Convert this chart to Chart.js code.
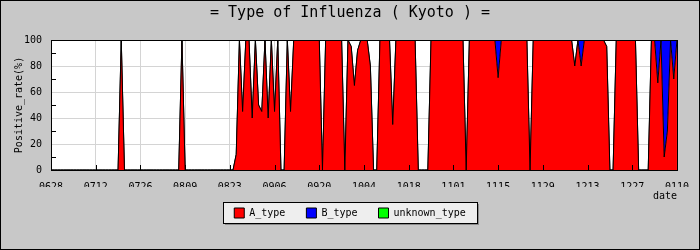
<!DOCTYPE html>
<html>
<head>
<meta charset="utf-8">
<title>Type of Influenza (Kyoto)</title>
<script src="https://cdn.jsdelivr.net/npm/chart.js@4.4.1/dist/chart.umd.min.js"></script>
<style>
  html, body { margin: 0; padding: 0; background: #c8c8c8; }
  canvas { display: block; }
</style>
</head>
<body>
<canvas id="chartInfluenza" width="700" height="250"></canvas>
<script>
// x axis runs one point per day, 0628 .. 0110, labelled every 14 days
const tickLabels = ['0628', '0712', '0726', '0809', '0823', '0906', '0920', '1004',
                    '1018', '1101', '1115', '1129', '1213', '1227', '0110'];

// positive rate (%) per day, one row = 14 days
const typeA = [
    0, 0, 0, 0, 0, 0, 0, 0, 0, 0, 0, 0, 0, 0,                     // 0628
    0, 0, 0, 0, 0, 0, 0, 0, 100, 0, 0, 0, 0, 0,                   // 0712
    0, 0, 0, 0, 0, 0, 0, 0, 0, 0, 0, 0, 0, 100,                   // 0726
    0, 0, 0, 0, 0, 0, 0, 0, 0, 0, 0, 0, 0, 0,                     // 0809
    0, 0, 12, 100, 45, 100, 100, 40, 100, 50, 45, 100, 40, 100,   // 0823
    45, 100, 0, 0, 100, 45, 100, 100, 100, 100, 100, 100, 100, 100, // 0906
    100, 0, 100, 100, 100, 100, 100, 100, 0, 100, 95, 65, 92, 100, // 0920
    100, 100, 80, 0, 0, 100, 100, 100, 100, 35, 100, 100, 100, 100, // 1004
    100, 100, 100, 0, 0, 0, 0, 100, 100, 100, 100, 100, 100, 100, // 1018
    100, 100, 100, 100, 0, 100, 100, 100, 100, 100, 100, 100, 100, 100, // 1101
    71, 100, 100, 100, 100, 100, 100, 100, 100, 100, 0, 100, 100, 100, // 1115
    100, 100, 100, 100, 100, 100, 100, 100, 100, 100, 80, 100, 80, 100, // 1129
    100, 100, 100, 100, 100, 100, 95, 0, 0, 100, 100, 100, 100, 100, // 1213
    100, 100, 0, 0, 0, 0, 100, 100, 67, 100, 10, 30, 100, 70,     // 1227
    100                                                           // 0110
];

const typeB = [
    0, 0, 0, 0, 0, 0, 0, 0, 0, 0, 0, 0, 0, 0,         // 0628
    0, 0, 0, 0, 0, 0, 0, 0, 0, 0, 0, 0, 0, 0,         // 0712
    0, 0, 0, 0, 0, 0, 0, 0, 0, 0, 0, 0, 0, 0,         // 0726
    0, 0, 0, 0, 0, 0, 0, 0, 0, 0, 0, 0, 0, 0,         // 0809
    0, 0, 0, 0, 0, 0, 0, 0, 0, 0, 0, 0, 0, 0,         // 0823
    0, 0, 0, 0, 0, 0, 0, 0, 0, 0, 0, 0, 0, 0,         // 0906
    0, 0, 0, 0, 0, 0, 0, 0, 0, 0, 0, 0, 0, 0,         // 0920
    0, 0, 0, 0, 0, 0, 0, 0, 0, 0, 0, 0, 0, 0,         // 1004
    0, 0, 0, 0, 0, 0, 0, 0, 0, 0, 0, 0, 0, 0,         // 1018
    0, 0, 0, 0, 0, 0, 0, 0, 0, 0, 0, 0, 0, 0,         // 1101
    29, 0, 0, 0, 0, 0, 0, 0, 0, 0, 0, 0, 0, 0,        // 1115
    0, 0, 0, 0, 0, 0, 0, 0, 0, 0, 0, 0, 20, 0,        // 1129
    0, 0, 0, 0, 0, 0, 0, 0, 0, 0, 0, 0, 0, 0,         // 1213
    0, 0, 0, 0, 0, 0, 0, 0, 33, 0, 90, 70, 0, 30,     // 1227
    0                                                 // 0110
];

// no unknown_type positives show up in the picture
const typeUnknown = [];

function toPoints(values) {
    return values.map((v, i) => ({ x: i, y: v }));
}

// white plot area, legend frame, inner tick marks and black plot border
const plotDecor = {
    id: 'plotDecor',
    beforeDraw(chart) {
        const { ctx, chartArea: a, width, height } = chart;
        ctx.save();
        ctx.fillStyle = '#c8c8c8';
        ctx.fillRect(0, 0, width, height);
        ctx.fillStyle = '#ffffff';
        ctx.fillRect(a.left, a.top, a.right - a.left, a.bottom - a.top);

        const hb = chart.legend.legendHitBoxes;
        if (hb && hb.length) {
            const first = hb[0], last = hb[hb.length - 1];
            const bx = Math.round(first.left - 11) + 0.5;
            const by = Math.round(first.top - 6) + 0.5;
            const bw = Math.round(last.left + last.width + 12 - (first.left - 11));
            const bh = 21;
            ctx.fillStyle = '#8c8c8c';
            ctx.fillRect(bx + 1.5, by + 1.5, bw, bh);
            ctx.fillStyle = '#eeeeee';
            ctx.fillRect(bx, by, bw, bh);
            ctx.strokeStyle = '#000000';
            ctx.lineWidth = 1;
            ctx.strokeRect(bx, by, bw, bh);
        }
        ctx.restore();
    },
    afterDatasetsDraw(chart) {
        const { ctx, chartArea: a, scales } = chart;
        ctx.save();
        ctx.strokeStyle = '#000000';
        ctx.lineWidth = 1;
        ctx.beginPath();
        scales.x.ticks.forEach(t => {
            const px = Math.round(scales.x.getPixelForValue(t.value)) + 0.5;
            ctx.moveTo(px, a.bottom);
            ctx.lineTo(px, a.bottom - 5);
        });
        [10, 30, 50, 70, 90].forEach(v => {
            const py = Math.round(scales.y.getPixelForValue(v)) + 0.5;
            ctx.moveTo(a.left, py);
            ctx.lineTo(a.left + 5, py);
        });
        ctx.stroke();
        ctx.strokeRect(Math.round(a.left) + 0.5, Math.round(a.top) + 0.5,
                       Math.round(a.right - a.left), Math.round(a.bottom - a.top));
        ctx.restore();
    },
    afterDraw(chart) {
        const { ctx, width, height } = chart;
        ctx.save();
        ctx.strokeStyle = '#000000';
        ctx.lineWidth = 1;
        ctx.strokeRect(0.5, 0.5, width - 1, height - 1);
        ctx.restore();
    }
};

Chart.defaults.font.family = "'DejaVu Sans Mono', monospace";
Chart.defaults.font.size = 10;
Chart.defaults.color = '#000000';

const ctxInfluenza = document.getElementById('chartInfluenza').getContext('2d');

const chartInfluenza = new Chart(ctxInfluenza, {
    type: 'line',
    data: {
        datasets: [
            {
                label: 'A_type',
                data: toPoints(typeA),
                backgroundColor: '#ff0000',
                borderColor: '#000000',
                borderWidth: 1,
                fill: 'origin'
            },
            {
                label: 'B_type',
                data: toPoints(typeB),
                backgroundColor: '#0000ff',
                borderColor: '#000000',
                borderWidth: 1,
                fill: '-1'
            },
            {
                label: 'unknown_type',
                data: toPoints(typeUnknown),
                backgroundColor: '#00ff00',
                borderColor: '#000000',
                borderWidth: 1,
                fill: '-1'
            }
        ]
    },
    options: {
        responsive: false,
        animation: false,
        events: [],
        elements: {
            point: { radius: 0 },
            line: { tension: 0 }
        },
        layout: {
            padding: { left: 19, right: 19, top: 0, bottom: 22 }
        },
        plugins: {
            title: {
                display: true,
                text: '= Type of Influenza ( Kyoto ) =',
                font: { size: 15, weight: 'normal' },
                color: '#000000',
                padding: { top: 4, bottom: 18 }
            },
            legend: {
                position: 'bottom',
                labels: {
                    boxWidth: 10,
                    boxHeight: 10,
                    padding: 21,
                    font: { size: 10 }
                }
            },
            tooltip: { enabled: false }
        },
        scales: {
            x: {
                type: 'linear',
                min: 0,
                max: 196,
                afterFit: scale => { scale.height = 17; },
                ticks: {
                    stepSize: 14,
                    autoSkip: false,
                    maxRotation: 0,
                    padding: 11,
                    callback: v => tickLabels[v / 14]
                },
                grid: { color: '#d4d4d4', drawTicks: false },
                border: { color: '#000000' },
                title: {
                    display: true,
                    text: 'date',
                    align: 'end',
                    padding: { top: 0, bottom: -15 }
                }
            },
            y: {
                stacked: true,
                min: 0,
                max: 100,
                afterFit: scale => { scale.width = 32; },
                ticks: { stepSize: 20, padding: 9 },
                grid: { color: '#d4d4d4', drawTicks: false },
                border: { color: '#000000' },
                title: {
                    display: true,
                    text: 'Positive_rate(%)',
                    padding: { top: -6, bottom: 0 }
                }
            }
        }
    },
    plugins: [plotDecor]
});
</script>
</body>
</html>
